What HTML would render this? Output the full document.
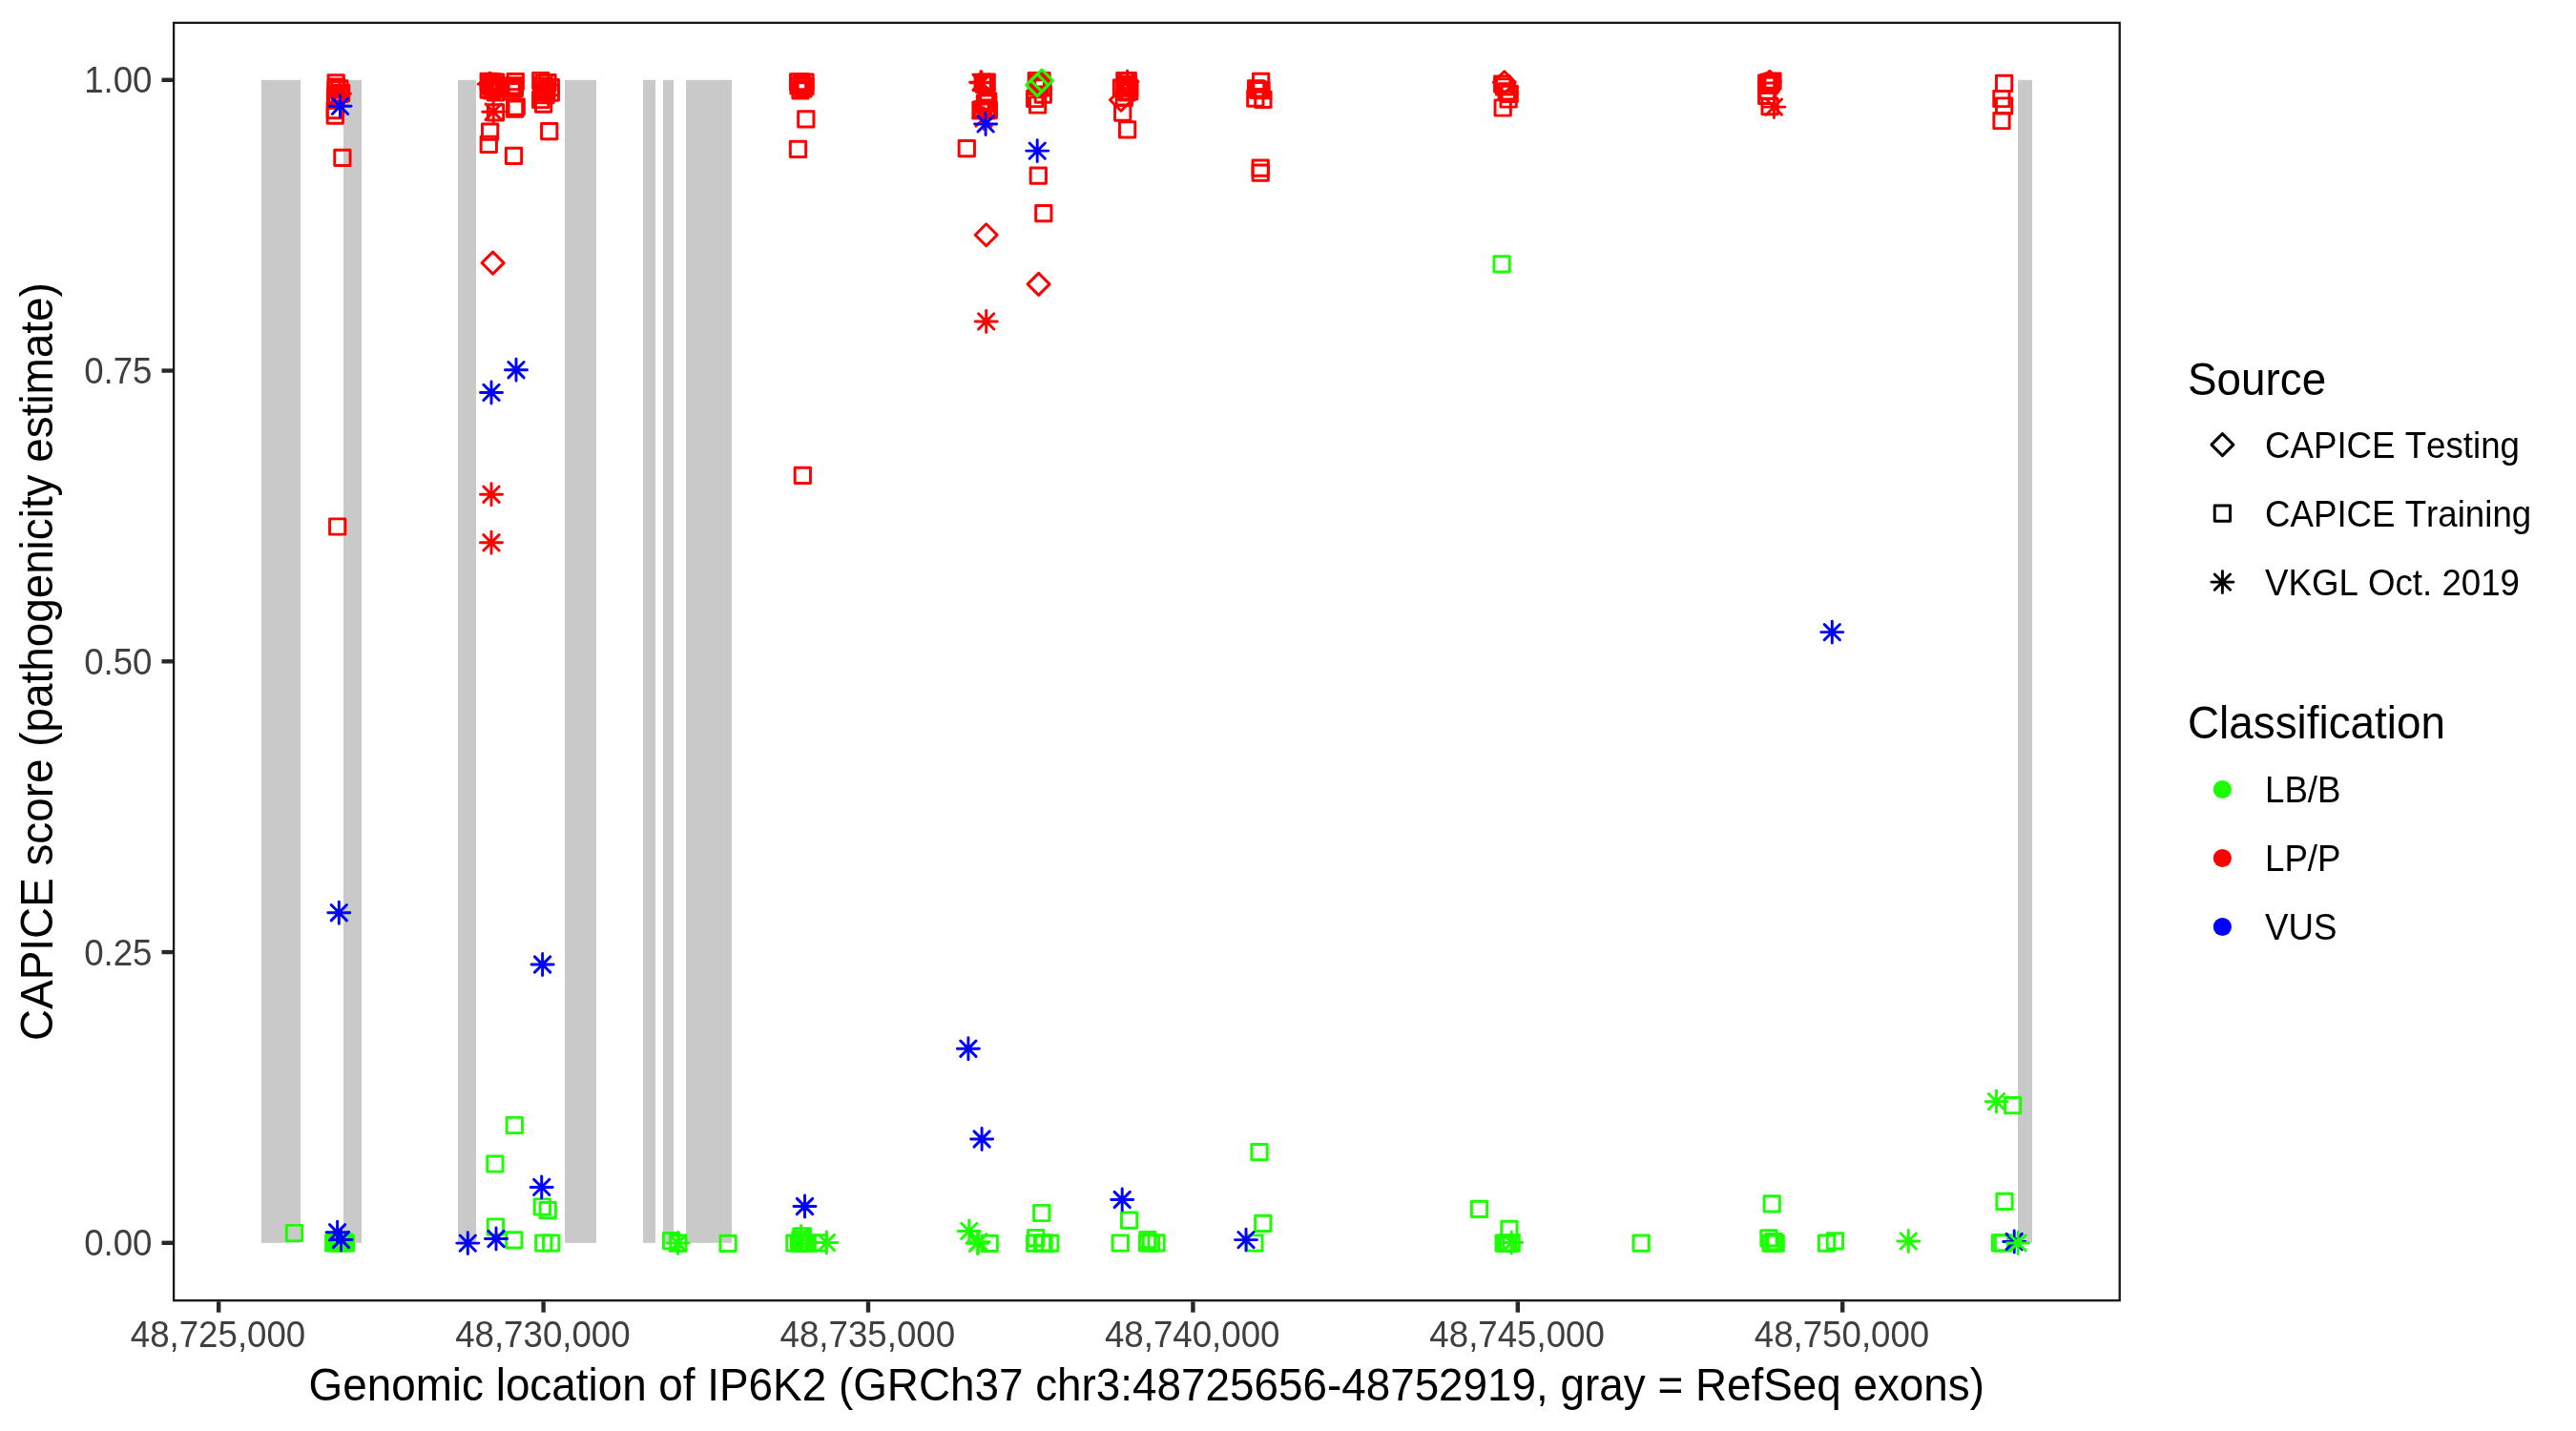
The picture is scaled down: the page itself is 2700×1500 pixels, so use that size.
<!DOCTYPE html>
<html lang="en"><head><meta charset="utf-8"><title>CAPICE score IP6K2</title>
<style>
html,body{margin:0;padding:0;background:#fff;}
body{width:2700px;height:1500px;overflow:hidden;}
svg{display:block;will-change:transform;}
text{font-family:"Liberation Sans",Arial,Helvetica,sans-serif;font-kerning:none;}
.tk{font-size:36.67px;fill:#3F3F3F;}
.ti{font-size:45.83px;fill:#000;}
.lg{font-size:36.67px;fill:#000;}
</style></head><body>
<svg width="2700" height="1500" viewBox="0 0 2700 1500">
<rect x="0" y="0" width="2700" height="1500" fill="#fff"/>
<g fill="#C9C9C9">
<rect x="274" y="83.8" width="41" height="1219"/>
<rect x="360" y="83.8" width="19" height="1219"/>
<rect x="480" y="83.8" width="19" height="1219"/>
<rect x="592" y="83.8" width="33" height="1219"/>
<rect x="674" y="83.8" width="13" height="1219"/>
<rect x="695" y="83.8" width="11" height="1219"/>
<rect x="719" y="83.8" width="48" height="1219"/>
<rect x="2115" y="83.8" width="15" height="1219"/>
</g>
<g fill="none" stroke-width="2.95" stroke-linecap="round" stroke-linejoin="round">
<rect x="344.06" y="78.76" width="16.28" height="16.28" stroke="#FF0000"/>
<rect x="344.36" y="82.86" width="16.28" height="16.28" stroke="#FF0000"/>
<rect x="347.66" y="84.66" width="16.28" height="16.28" stroke="#FF0000"/>
<rect x="343.86" y="85.86" width="16.28" height="16.28" stroke="#FF0000"/>
<rect x="349.46" y="89.56" width="16.28" height="16.28" stroke="#FF0000"/>
<rect x="344.86" y="90.86" width="16.28" height="16.28" stroke="#FF0000"/>
<rect x="343.86" y="94.86" width="16.28" height="16.28" stroke="#FF0000"/>
<rect x="343.36" y="97.06" width="16.28" height="16.28" stroke="#FF0000"/>
<rect x="343.86" y="92.86" width="16.28" height="16.28" stroke="#FF0000"/>
<rect x="343.16" y="107.46" width="16.28" height="16.28" stroke="#FF0000"/>
<rect x="343.16" y="113.06" width="16.28" height="16.28" stroke="#FF0000"/>
<rect x="350.76" y="157.26" width="16.28" height="16.28" stroke="#FF0000"/>
<rect x="345.56" y="543.86" width="16.28" height="16.28" stroke="#FF0000"/>
<rect x="504.06" y="77.26" width="16.28" height="16.28" stroke="#FF0000"/>
<rect x="505.86" y="77.86" width="16.28" height="16.28" stroke="#FF0000"/>
<rect x="507.86" y="77.66" width="16.28" height="16.28" stroke="#FF0000"/>
<rect x="511.36" y="77.86" width="16.28" height="16.28" stroke="#FF0000"/>
<rect x="504.86" y="81.86" width="16.28" height="16.28" stroke="#FF0000"/>
<rect x="508.86" y="82.86" width="16.28" height="16.28" stroke="#FF0000"/>
<rect x="511.36" y="83.86" width="16.28" height="16.28" stroke="#FF0000"/>
<rect x="504.06" y="85.96" width="16.28" height="16.28" stroke="#FF0000"/>
<rect x="507.86" y="86.86" width="16.28" height="16.28" stroke="#FF0000"/>
<rect x="511.46" y="88.86" width="16.28" height="16.28" stroke="#FF0000"/>
<rect x="506.86" y="79.86" width="16.28" height="16.28" stroke="#FF0000"/>
<rect x="509.86" y="80.86" width="16.28" height="16.28" stroke="#FF0000"/>
<rect x="513.86" y="84.86" width="16.28" height="16.28" stroke="#FF0000"/>
<rect x="516.86" y="81.86" width="16.28" height="16.28" stroke="#FF0000"/>
<rect x="511.36" y="109.76" width="16.28" height="16.28" stroke="#FF0000"/>
<rect x="532.16" y="77.46" width="16.28" height="16.28" stroke="#FF0000"/>
<rect x="531.16" y="81.66" width="16.28" height="16.28" stroke="#FF0000"/>
<rect x="528.16" y="83.26" width="16.28" height="16.28" stroke="#FF0000"/>
<rect x="531.16" y="84.56" width="16.28" height="16.28" stroke="#FF0000"/>
<rect x="528.16" y="87.46" width="16.28" height="16.28" stroke="#FF0000"/>
<rect x="533.06" y="103.86" width="16.28" height="16.28" stroke="#FF0000"/>
<rect x="531.46" y="106.06" width="16.28" height="16.28" stroke="#FF0000"/>
<rect x="558.66" y="76.36" width="16.28" height="16.28" stroke="#FF0000"/>
<rect x="561.86" y="78.86" width="16.28" height="16.28" stroke="#FF0000"/>
<rect x="565.86" y="78.46" width="16.28" height="16.28" stroke="#FF0000"/>
<rect x="569.16" y="83.56" width="16.28" height="16.28" stroke="#FF0000"/>
<rect x="569.16" y="89.06" width="16.28" height="16.28" stroke="#FF0000"/>
<rect x="559.46" y="81.86" width="16.28" height="16.28" stroke="#FF0000"/>
<rect x="561.86" y="84.86" width="16.28" height="16.28" stroke="#FF0000"/>
<rect x="564.86" y="86.86" width="16.28" height="16.28" stroke="#FF0000"/>
<rect x="559.66" y="88.86" width="16.28" height="16.28" stroke="#FF0000"/>
<rect x="558.56" y="96.36" width="16.28" height="16.28" stroke="#FF0000"/>
<rect x="561.46" y="101.01" width="16.28" height="16.28" stroke="#FF0000"/>
<rect x="563.86" y="91.56" width="16.28" height="16.28" stroke="#FF0000"/>
<rect x="505.46" y="129.96" width="16.28" height="16.28" stroke="#FF0000"/>
<rect x="504.16" y="143.16" width="16.28" height="16.28" stroke="#FF0000"/>
<rect x="530.36" y="155.16" width="16.28" height="16.28" stroke="#FF0000"/>
<rect x="567.56" y="129.56" width="16.28" height="16.28" stroke="#FF0000"/>
<rect x="531.16" y="1171.36" width="16.28" height="16.28" stroke="#1CFF00"/>
<rect x="510.76" y="1211.86" width="16.28" height="16.28" stroke="#1CFF00"/>
<rect x="560.26" y="1256.86" width="16.28" height="16.28" stroke="#1CFF00"/>
<rect x="566.06" y="1260.56" width="16.28" height="16.28" stroke="#1CFF00"/>
<rect x="511.26" y="1277.86" width="16.28" height="16.28" stroke="#1CFF00"/>
<rect x="300.36" y="1284.36" width="16.28" height="16.28" stroke="#1CFF00"/>
<rect x="341.56" y="1294.86" width="16.28" height="16.28" stroke="#1CFF00"/>
<rect x="345.86" y="1294.86" width="16.28" height="16.28" stroke="#1CFF00"/>
<rect x="349.86" y="1294.86" width="16.28" height="16.28" stroke="#1CFF00"/>
<rect x="354.26" y="1294.86" width="16.28" height="16.28" stroke="#1CFF00"/>
<rect x="343.36" y="1293.36" width="16.28" height="16.28" stroke="#1CFF00"/>
<rect x="347.86" y="1292.36" width="16.28" height="16.28" stroke="#1CFF00"/>
<rect x="352.36" y="1293.36" width="16.28" height="16.28" stroke="#1CFF00"/>
<rect x="530.66" y="1291.76" width="16.28" height="16.28" stroke="#1CFF00"/>
<rect x="561.66" y="1294.86" width="16.28" height="16.28" stroke="#1CFF00"/>
<rect x="569.56" y="1294.86" width="16.28" height="16.28" stroke="#1CFF00"/>
<rect x="695.46" y="1292.46" width="16.28" height="16.28" stroke="#1CFF00"/>
<rect x="702.76" y="1294.96" width="16.28" height="16.28" stroke="#1CFF00"/>
<rect x="754.96" y="1295.26" width="16.28" height="16.28" stroke="#1CFF00"/>
<rect x="824.76" y="1294.86" width="16.28" height="16.28" stroke="#1CFF00"/>
<rect x="829.36" y="1294.86" width="16.28" height="16.28" stroke="#1CFF00"/>
<rect x="831.86" y="1294.86" width="16.28" height="16.28" stroke="#1CFF00"/>
<rect x="833.86" y="1294.46" width="16.28" height="16.28" stroke="#1CFF00"/>
<rect x="835.86" y="1294.86" width="16.28" height="16.28" stroke="#1CFF00"/>
<rect x="838.06" y="1294.86" width="16.28" height="16.28" stroke="#1CFF00"/>
<rect x="849.86" y="1294.76" width="16.28" height="16.28" stroke="#1CFF00"/>
<rect x="833.26" y="1287.61" width="16.28" height="16.28" stroke="#1CFF00"/>
<rect x="830.86" y="1290.86" width="16.28" height="16.28" stroke="#1CFF00"/>
<rect x="828.46" y="77.76" width="16.28" height="16.28" stroke="#FF0000"/>
<rect x="831.86" y="77.86" width="16.28" height="16.28" stroke="#FF0000"/>
<rect x="835.86" y="78.06" width="16.28" height="16.28" stroke="#FF0000"/>
<rect x="828.86" y="81.86" width="16.28" height="16.28" stroke="#FF0000"/>
<rect x="835.86" y="82.36" width="16.28" height="16.28" stroke="#FF0000"/>
<rect x="830.86" y="86.66" width="16.28" height="16.28" stroke="#FF0000"/>
<rect x="833.86" y="84.86" width="16.28" height="16.28" stroke="#FF0000"/>
<rect x="832.36" y="80.36" width="16.28" height="16.28" stroke="#FF0000"/>
<rect x="836.66" y="116.76" width="16.28" height="16.28" stroke="#FF0000"/>
<rect x="828.36" y="148.16" width="16.28" height="16.28" stroke="#FF0000"/>
<rect x="833.16" y="490.26" width="16.28" height="16.28" stroke="#FF0000"/>
<rect x="1026.06" y="77.96" width="16.28" height="16.28" stroke="#FF0000"/>
<rect x="1022.06" y="78.16" width="16.28" height="16.28" stroke="#FF0000"/>
<rect x="1023.36" y="80.16" width="16.28" height="16.28" stroke="#FF0000"/>
<rect x="1025.86" y="92.71" width="16.28" height="16.28" stroke="#FF0000"/>
<rect x="1027.56" y="97.96" width="16.28" height="16.28" stroke="#FF0000"/>
<rect x="1024.36" y="100.06" width="16.28" height="16.28" stroke="#FF0000"/>
<rect x="1025.86" y="105.06" width="16.28" height="16.28" stroke="#FF0000"/>
<rect x="1019.86" y="107.26" width="16.28" height="16.28" stroke="#FF0000"/>
<rect x="1028.26" y="107.26" width="16.28" height="16.28" stroke="#FF0000"/>
<rect x="1021.06" y="107.06" width="16.28" height="16.28" stroke="#FF0000"/>
<rect x="1022.26" y="106.66" width="16.28" height="16.28" stroke="#FF0000"/>
<rect x="1005.16" y="147.46" width="16.28" height="16.28" stroke="#FF0000"/>
<rect x="1029.06" y="1295.16" width="16.28" height="16.28" stroke="#1CFF00"/>
<rect x="1078.26" y="76.36" width="16.28" height="16.28" stroke="#FF0000"/>
<rect x="1083.86" y="76.36" width="16.28" height="16.28" stroke="#FF0000"/>
<rect x="1084.86" y="83.66" width="16.28" height="16.28" stroke="#FF0000"/>
<rect x="1085.16" y="90.96" width="16.28" height="16.28" stroke="#FF0000"/>
<rect x="1076.56" y="95.36" width="16.28" height="16.28" stroke="#FF0000"/>
<rect x="1079.46" y="101.86" width="16.28" height="16.28" stroke="#FF0000"/>
<rect x="1079.86" y="79.26" width="16.28" height="16.28" stroke="#FF0000"/>
<rect x="1080.86" y="80.66" width="16.28" height="16.28" stroke="#FF0000"/>
<rect x="1081.86" y="82.86" width="16.28" height="16.28" stroke="#FF0000"/>
<rect x="1078.36" y="82.16" width="16.28" height="16.28" stroke="#FF0000"/>
<rect x="1080.16" y="175.96" width="16.28" height="16.28" stroke="#FF0000"/>
<rect x="1085.66" y="215.46" width="16.28" height="16.28" stroke="#FF0000"/>
<rect x="1083.66" y="1263.36" width="16.28" height="16.28" stroke="#1CFF00"/>
<rect x="1077.56" y="1289.36" width="16.28" height="16.28" stroke="#1CFF00"/>
<rect x="1076.56" y="1295.06" width="16.28" height="16.28" stroke="#1CFF00"/>
<rect x="1084.36" y="1295.06" width="16.28" height="16.28" stroke="#1CFF00"/>
<rect x="1085.86" y="1295.06" width="16.28" height="16.28" stroke="#1CFF00"/>
<rect x="1092.66" y="1295.06" width="16.28" height="16.28" stroke="#1CFF00"/>
<rect x="1170.76" y="76.56" width="16.28" height="16.28" stroke="#FF0000"/>
<rect x="1174.16" y="76.56" width="16.28" height="16.28" stroke="#FF0000"/>
<rect x="1167.36" y="83.96" width="16.28" height="16.28" stroke="#FF0000"/>
<rect x="1175.56" y="83.86" width="16.28" height="16.28" stroke="#FF0000"/>
<rect x="1175.56" y="87.76" width="16.28" height="16.28" stroke="#FF0000"/>
<rect x="1170.16" y="94.16" width="16.28" height="16.28" stroke="#FF0000"/>
<rect x="1171.86" y="79.86" width="16.28" height="16.28" stroke="#FF0000"/>
<rect x="1170.86" y="87.86" width="16.28" height="16.28" stroke="#FF0000"/>
<rect x="1172.86" y="88.66" width="16.28" height="16.28" stroke="#FF0000"/>
<rect x="1172.36" y="82.36" width="16.28" height="16.28" stroke="#FF0000"/>
<rect x="1168.56" y="110.06" width="16.28" height="16.28" stroke="#FF0000"/>
<rect x="1173.46" y="127.76" width="16.28" height="16.28" stroke="#FF0000"/>
<rect x="1175.46" y="1271.06" width="16.28" height="16.28" stroke="#1CFF00"/>
<rect x="1166.16" y="1294.86" width="16.28" height="16.28" stroke="#1CFF00"/>
<rect x="1194.86" y="1291.46" width="16.28" height="16.28" stroke="#1CFF00"/>
<rect x="1194.46" y="1294.66" width="16.28" height="16.28" stroke="#1CFF00"/>
<rect x="1198.26" y="1294.66" width="16.28" height="16.28" stroke="#1CFF00"/>
<rect x="1203.96" y="1294.66" width="16.28" height="16.28" stroke="#1CFF00"/>
<rect x="1313.46" y="77.16" width="16.28" height="16.28" stroke="#FF0000"/>
<rect x="1308.46" y="84.71" width="16.28" height="16.28" stroke="#FF0000"/>
<rect x="1311.86" y="86.36" width="16.28" height="16.28" stroke="#FF0000"/>
<rect x="1307.66" y="95.06" width="16.28" height="16.28" stroke="#FF0000"/>
<rect x="1315.76" y="96.16" width="16.28" height="16.28" stroke="#FF0000"/>
<rect x="1309.46" y="85.36" width="16.28" height="16.28" stroke="#FF0000"/>
<rect x="1310.66" y="85.86" width="16.28" height="16.28" stroke="#FF0000"/>
<rect x="1313.86" y="86.46" width="16.28" height="16.28" stroke="#FF0000"/>
<rect x="1313.06" y="168.06" width="16.28" height="16.28" stroke="#FF0000"/>
<rect x="1313.06" y="172.96" width="16.28" height="16.28" stroke="#FF0000"/>
<rect x="1306.76" y="1294.86" width="16.28" height="16.28" stroke="#1CFF00"/>
<rect x="1315.66" y="1274.16" width="16.28" height="16.28" stroke="#1CFF00"/>
<rect x="1311.86" y="1199.56" width="16.28" height="16.28" stroke="#1CFF00"/>
<rect x="1566.56" y="80.06" width="16.28" height="16.28" stroke="#FF0000"/>
<rect x="1568.46" y="82.86" width="16.28" height="16.28" stroke="#FF0000"/>
<rect x="1571.11" y="87.76" width="16.28" height="16.28" stroke="#FF0000"/>
<rect x="1574.06" y="90.16" width="16.28" height="16.28" stroke="#FF0000"/>
<rect x="1572.96" y="95.86" width="16.28" height="16.28" stroke="#FF0000"/>
<rect x="1567.06" y="104.86" width="16.28" height="16.28" stroke="#FF0000"/>
<rect x="1565.96" y="268.76" width="16.28" height="16.28" stroke="#1CFF00"/>
<rect x="1542.36" y="1259.26" width="16.28" height="16.28" stroke="#1CFF00"/>
<rect x="1573.76" y="1280.16" width="16.28" height="16.28" stroke="#1CFF00"/>
<rect x="1568.06" y="1294.96" width="16.28" height="16.28" stroke="#1CFF00"/>
<rect x="1570.36" y="1294.96" width="16.28" height="16.28" stroke="#1CFF00"/>
<rect x="1572.86" y="1294.96" width="16.28" height="16.28" stroke="#1CFF00"/>
<rect x="1575.96" y="1294.96" width="16.28" height="16.28" stroke="#1CFF00"/>
<rect x="1712.06" y="1295.06" width="16.28" height="16.28" stroke="#1CFF00"/>
<rect x="1849.86" y="77.06" width="16.28" height="16.28" stroke="#FF0000"/>
<rect x="1843.56" y="78.86" width="16.28" height="16.28" stroke="#FF0000"/>
<rect x="1846.86" y="81.26" width="16.28" height="16.28" stroke="#FF0000"/>
<rect x="1844.86" y="87.06" width="16.28" height="16.28" stroke="#FF0000"/>
<rect x="1843.56" y="92.16" width="16.28" height="16.28" stroke="#FF0000"/>
<rect x="1846.96" y="103.46" width="16.28" height="16.28" stroke="#FF0000"/>
<rect x="1846.36" y="77.86" width="16.28" height="16.28" stroke="#FF0000"/>
<rect x="1848.06" y="79.36" width="16.28" height="16.28" stroke="#FF0000"/>
<rect x="1849.06" y="1253.76" width="16.28" height="16.28" stroke="#1CFF00"/>
<rect x="1845.86" y="1289.66" width="16.28" height="16.28" stroke="#1CFF00"/>
<rect x="1848.06" y="1295.06" width="16.28" height="16.28" stroke="#1CFF00"/>
<rect x="1853.06" y="1295.06" width="16.28" height="16.28" stroke="#1CFF00"/>
<rect x="1850.86" y="1293.46" width="16.28" height="16.28" stroke="#1CFF00"/>
<rect x="1906.46" y="1295.06" width="16.28" height="16.28" stroke="#1CFF00"/>
<rect x="1915.26" y="1292.76" width="16.28" height="16.28" stroke="#1CFF00"/>
<rect x="2092.46" y="79.26" width="16.28" height="16.28" stroke="#FF0000"/>
<rect x="2089.76" y="95.36" width="16.28" height="16.28" stroke="#FF0000"/>
<rect x="2092.46" y="102.86" width="16.28" height="16.28" stroke="#FF0000"/>
<rect x="2089.86" y="118.36" width="16.28" height="16.28" stroke="#FF0000"/>
<rect x="2101.56" y="1150.46" width="16.28" height="16.28" stroke="#1CFF00"/>
<rect x="2092.86" y="1251.16" width="16.28" height="16.28" stroke="#1CFF00"/>
<rect x="2088.36" y="1294.76" width="16.28" height="16.28" stroke="#1CFF00"/>
<rect x="2091.36" y="1294.76" width="16.28" height="16.28" stroke="#1CFF00"/>
<path d="M502.3 87.7L513.8 76.2L525.3 87.7L513.8 99.2Z" stroke="#FF0000"/>
<path d="M505.1 275.6L516.6 264.1L528.1 275.6L516.6 287.1Z" stroke="#FF0000"/>
<path d="M1022.2 246.2L1033.7 234.7L1045.2 246.2L1033.7 257.7Z" stroke="#FF0000"/>
<path d="M1080.5 84.5L1092 73L1103.5 84.5L1092 96Z" stroke="#1CFF00"/>
<path d="M1075.7 89.1L1087.2 77.6L1098.7 89.1L1087.2 100.6Z" stroke="#1CFF00"/>
<path d="M1077.1 297.9L1088.6 286.4L1100.1 297.9L1088.6 309.4Z" stroke="#FF0000"/>
<path d="M1163.5 104.8L1175 93.3L1186.5 104.8L1175 116.3Z" stroke="#FF0000"/>
<path d="M1565.3 86.2L1576.8 74.7L1588.3 86.2L1576.8 97.7Z" stroke="#FF0000"/>
<path d="M1843.3 85.7L1854.8 74.2L1866.3 85.7L1854.8 97.2Z" stroke="#FF0000"/>
<path d="M344.4 98.2H367.4M355.9 86.7V109.7M347.76 90.06L364.04 106.34M347.76 106.34L364.04 90.06" stroke="#FF0000"/>
<path d="M345 111.3H368M356.5 99.8V122.8M348.36 103.16L364.64 119.44M348.36 119.44L364.64 103.16" stroke="#0000FF"/>
<path d="M343.8 956.7H366.8M355.3 945.2V968.2M347.16 948.56L363.44 964.84M347.16 964.84L363.44 948.56" stroke="#0000FF"/>
<path d="M501.1 88.1H524.1M512.6 76.6V99.6M504.46 79.96L520.74 96.24M504.46 96.24L520.74 79.96" stroke="#FF0000"/>
<path d="M505.7 117.2H528.7M517.2 105.7V128.7M509.06 109.06L525.34 125.34M509.06 125.34L525.34 109.06" stroke="#FF0000"/>
<path d="M529.5 387.7H552.5M541 376.2V399.2M532.86 379.56L549.14 395.84M532.86 395.84L549.14 379.56" stroke="#0000FF"/>
<path d="M503.5 411.4H526.5M515 399.9V422.9M506.86 403.26L523.14 419.54M506.86 419.54L523.14 403.26" stroke="#0000FF"/>
<path d="M503.5 518.2H526.5M515 506.7V529.7M506.86 510.06L523.14 526.34M506.86 526.34L523.14 510.06" stroke="#FF0000"/>
<path d="M503.5 568.8H526.5M515 557.3V580.3M506.86 560.66L523.14 576.94M506.86 576.94L523.14 560.66" stroke="#FF0000"/>
<path d="M557.1 1011H580.1M568.6 999.5V1022.5M560.46 1002.86L576.74 1019.14M560.46 1019.14L576.74 1002.86" stroke="#0000FF"/>
<path d="M556.2 1244.4H579.2M567.7 1232.9V1255.9M559.56 1236.26L575.84 1252.54M559.56 1252.54L575.84 1236.26" stroke="#0000FF"/>
<path d="M342.1 1291.8H365.1M353.6 1280.3V1303.3M345.46 1283.66L361.74 1299.94M345.46 1299.94L361.74 1283.66" stroke="#0000FF"/>
<path d="M346 1299.5H369M357.5 1288V1311M349.36 1291.36L365.64 1307.64M349.36 1307.64L365.64 1291.36" stroke="#0000FF"/>
<path d="M478.8 1303.1H501.8M490.3 1291.6V1314.6M482.16 1294.96L498.44 1311.24M482.16 1311.24L498.44 1294.96" stroke="#0000FF"/>
<path d="M508.5 1298.5H531.5M520 1287V1310M511.86 1290.36L528.14 1306.64M511.86 1306.64L528.14 1290.36" stroke="#0000FF"/>
<path d="M699.1 1303H722.1M710.6 1291.5V1314.5M702.46 1294.86L718.74 1311.14M702.46 1311.14L718.74 1294.86" stroke="#1CFF00"/>
<path d="M832 1264.5H855M843.5 1253V1276M835.36 1256.36L851.64 1272.64M835.36 1272.64L851.64 1256.36" stroke="#0000FF"/>
<path d="M828.1 1296.1H851.1M839.6 1284.6V1307.6M831.46 1287.96L847.74 1304.24M831.46 1304.24L847.74 1287.96" stroke="#1CFF00"/>
<path d="M854.9 1302.5H877.9M866.4 1291V1314M858.26 1294.36L874.54 1310.64M858.26 1310.64L874.54 1294.36" stroke="#1CFF00"/>
<path d="M1016.6 86.2H1039.6M1028.1 74.7V97.7M1019.96 78.06L1036.24 94.34M1019.96 94.34L1036.24 78.06" stroke="#FF0000"/>
<path d="M1017.4 86.8H1040.4M1028.9 75.3V98.3M1020.76 78.66L1037.04 94.94M1020.76 94.94L1037.04 78.66" stroke="#FF0000"/>
<path d="M1019.6 124.1H1042.6M1031.1 112.6V135.6M1022.96 115.96L1039.24 132.24M1022.96 132.24L1039.24 115.96" stroke="#FF0000"/>
<path d="M1021.6 129.9H1044.6M1033.1 118.4V141.4M1024.96 121.76L1041.24 138.04M1024.96 138.04L1041.24 121.76" stroke="#0000FF"/>
<path d="M1022.2 336.9H1045.2M1033.7 325.4V348.4M1025.56 328.76L1041.84 345.04M1025.56 345.04L1041.84 328.76" stroke="#FF0000"/>
<path d="M1003.4 1099.2H1026.4M1014.9 1087.7V1110.7M1006.76 1091.06L1023.04 1107.34M1006.76 1107.34L1023.04 1091.06" stroke="#0000FF"/>
<path d="M1017.6 1194H1040.6M1029.1 1182.5V1205.5M1020.96 1185.86L1037.24 1202.14M1020.96 1202.14L1037.24 1185.86" stroke="#0000FF"/>
<path d="M1004.3 1290.4H1027.3M1015.8 1278.9V1301.9M1007.66 1282.26L1023.94 1298.54M1007.66 1298.54L1023.94 1282.26" stroke="#1CFF00"/>
<path d="M1013.1 1303.3H1036.1M1024.6 1291.8V1314.8M1016.46 1295.16L1032.74 1311.44M1016.46 1311.44L1032.74 1295.16" stroke="#1CFF00"/>
<path d="M1014.2 1301.7H1037.2M1025.7 1290.2V1313.2M1017.56 1293.56L1033.84 1309.84M1017.56 1309.84L1033.84 1293.56" stroke="#1CFF00"/>
<path d="M1075.7 158.1H1098.7M1087.2 146.6V169.6M1079.06 149.96L1095.34 166.24M1079.06 166.24L1095.34 149.96" stroke="#0000FF"/>
<path d="M1170.1 85.6H1193.1M1181.6 74.1V97.1M1173.46 77.46L1189.74 93.74M1173.46 93.74L1189.74 77.46" stroke="#FF0000"/>
<path d="M1164.7 1257.5H1187.7M1176.2 1246V1269M1168.06 1249.36L1184.34 1265.64M1168.06 1265.64L1184.34 1249.36" stroke="#0000FF"/>
<path d="M1294.5 1299.6H1317.5M1306 1288.1V1311.1M1297.86 1291.46L1314.14 1307.74M1297.86 1307.74L1314.14 1291.46" stroke="#0000FF"/>
<path d="M1572.8 1302.4H1595.8M1584.3 1290.9V1313.9M1576.16 1294.26L1592.44 1310.54M1576.16 1310.54L1592.44 1294.26" stroke="#1CFF00"/>
<path d="M1847.9 112.1H1870.9M1859.4 100.6V123.6M1851.26 103.96L1867.54 120.24M1851.26 120.24L1867.54 103.96" stroke="#FF0000"/>
<path d="M1908.8 662.6H1931.8M1920.3 651.1V674.1M1912.16 654.46L1928.44 670.74M1912.16 670.74L1928.44 654.46" stroke="#0000FF"/>
<path d="M1988.8 1300.9H2011.8M2000.3 1289.4V1312.4M1992.16 1292.76L2008.44 1309.04M1992.16 1309.04L2008.44 1292.76" stroke="#1CFF00"/>
<path d="M2081 1154.6H2104M2092.5 1143.1V1166.1M2084.36 1146.46L2100.64 1162.74M2084.36 1162.74L2100.64 1146.46" stroke="#1CFF00"/>
<path d="M2099.7 1301.5H2122.7M2111.2 1290V1313M2103.06 1293.36L2119.34 1309.64M2103.06 1309.64L2119.34 1293.36" stroke="#0000FF"/>
<path d="M2103.6 1302.9H2126.6M2115.1 1291.4V1314.4M2106.96 1294.76L2123.24 1311.04M2106.96 1311.04L2123.24 1294.76" stroke="#1CFF00"/>
</g>
<rect x="182.1" y="23.9" width="2039.6" height="1339.3" fill="none" stroke="#161616" stroke-width="2.3"/>
<g stroke="#282828" stroke-width="4.4">
<path d="M169.5 1302.8H181"/>
<path d="M169.5 998.05H181"/>
<path d="M169.5 693.3H181"/>
<path d="M169.5 388.55H181"/>
<path d="M169.5 83.8H181"/>
<path d="M229.2 1364.3V1375.7"/>
<path d="M569.6 1364.3V1375.7"/>
<path d="M910 1364.3V1375.7"/>
<path d="M1250.4 1364.3V1375.7"/>
<path d="M1590.8 1364.3V1375.7"/>
<path d="M1931.2 1364.3V1375.7"/>
</g>
<text class="tk" transform="translate(159.5 1316.4) scale(1 1.04)" text-anchor="end">0.00</text>
<text class="tk" transform="translate(159.5 1011.65) scale(1 1.04)" text-anchor="end">0.25</text>
<text class="tk" transform="translate(159.5 706.9) scale(1 1.04)" text-anchor="end">0.50</text>
<text class="tk" transform="translate(159.5 402.15) scale(1 1.04)" text-anchor="end">0.75</text>
<text class="tk" transform="translate(159.5 97.4) scale(1 1.04)" text-anchor="end">1.00</text>
<text class="tk" transform="translate(228.5 1412.2) scale(1 1.04)" text-anchor="middle">48,725,000</text>
<text class="tk" transform="translate(568.9 1412.2) scale(1 1.04)" text-anchor="middle">48,730,000</text>
<text class="tk" transform="translate(909.3 1412.2) scale(1 1.04)" text-anchor="middle">48,735,000</text>
<text class="tk" transform="translate(1249.7 1412.2) scale(1 1.04)" text-anchor="middle">48,740,000</text>
<text class="tk" transform="translate(1590.1 1412.2) scale(1 1.04)" text-anchor="middle">48,745,000</text>
<text class="tk" transform="translate(1930.5 1412.2) scale(1 1.04)" text-anchor="middle">48,750,000</text>
<text class="ti" transform="translate(1201.8 1467.6) scale(1 1.04)" text-anchor="middle">Genomic location of IP6K2 (GRCh37 chr3:48725656-48752919, gray = RefSeq exons)</text>
<text class="ti" transform="translate(55.2 693.6) rotate(-90) scale(1 1.04)" text-anchor="middle">CAPICE score (pathogenicity estimate)</text>
<text class="ti" transform="translate(2293 413.8) scale(1 1.04)">Source</text>
<g fill="none" stroke="#000" stroke-width="2.95" stroke-linecap="round" stroke-linejoin="round">
<path d="M2317.9 466.1L2329.4 454.6L2340.9 466.1L2329.4 477.6Z" stroke="#000"/>
<rect x="2321.26" y="529.96" width="16.28" height="16.28" stroke="#000"/>
<path d="M2317.9 610.1H2340.9M2329.4 598.6V621.6M2321.26 601.96L2337.54 618.24M2321.26 618.24L2337.54 601.96" stroke="#000"/>
</g>
<text class="lg" transform="translate(2374 480.2) scale(1 1.04)">CAPICE Testing</text>
<text class="lg" transform="translate(2374 552.2) scale(1 1.04)">CAPICE Training</text>
<text class="lg" transform="translate(2374 624.2) scale(1 1.04)">VKGL Oct. 2019</text>
<text class="ti" transform="translate(2293 774.3) scale(1 1.04)">Classification</text>
<circle cx="2329.4" cy="827.5" r="9.6" fill="#1CFF00"/>
<text class="lg" transform="translate(2374 841.1) scale(1 1.04)">LB/B</text>
<circle cx="2329.4" cy="899.5" r="9.6" fill="#FF0000"/>
<text class="lg" transform="translate(2374 913.1) scale(1 1.04)">LP/P</text>
<circle cx="2329.4" cy="971.5" r="9.6" fill="#0000FF"/>
<text class="lg" transform="translate(2374 985.1) scale(1 1.04)">VUS</text>
</svg></body></html>
